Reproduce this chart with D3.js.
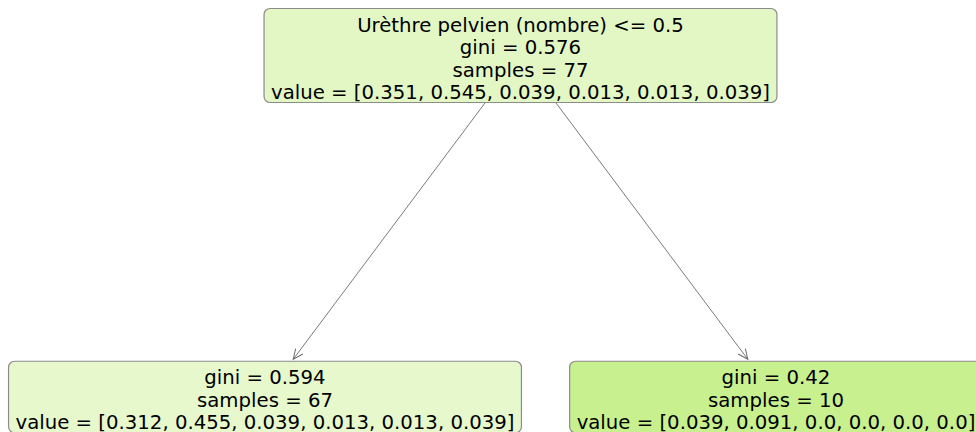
<!DOCTYPE html>
<html>
<head>
<meta charset="utf-8">
<script src="https://cdn.jsdelivr.net/npm/d3@7"></script>
<style>
  html, body { margin: 0; padding: 0; background: #fff; }
  svg { display: block; }
</style>
</head>
<body>
<div id="chart"></div>
<script>
// tree data (one entry per node)
const nodeIds = ['root', 'left', 'right'];
const nodeParents = [null, 'root', 'root'];
const splitFeatures = ['Urèthre pelvien (nombre)', null, null];
const splitThresholds = [0.5, null, null];
const giniValues = [0.576, 0.594, 0.42];
const sampleCounts = [77, 67, 10];
const classValues = [
  [0.351, 0.545, 0.039, 0.013, 0.013, 0.039],
  [0.312, 0.455, 0.039, 0.013, 0.013, 0.039],
  [0.039, 0.091, 0.0, 0.0, 0.0, 0.0]
];

const width = 976;
const height = 432;
const fontSize = 19.7;
const lineH = 22.5;
const padX = 7;

// number format like python repr (0.0 stays 0.0)
const fmt = v => Number.isInteger(v) ? v.toFixed(1) : String(v);

function nodeLines(i) {
  const lines = [];
  if (splitFeatures[i] !== null) {
    lines.push(`${splitFeatures[i]} <= ${splitThresholds[i]}`);
  }
  lines.push(`gini = ${giniValues[i]}`);
  lines.push(`samples = ${sampleCounts[i]}`);
  lines.push(`value = [${classValues[i].map(fmt).join(', ')}]`);
  return lines;
}

// colour like sklearn: class hue with alpha from the two biggest shares
const classColors = [
  [229, 129, 57], [158, 229, 57], [57, 229, 100],
  [57, 186, 229], [100, 57, 229], [229, 57, 186]
];
function nodeFill(vals) {
  const total = d3.sum(vals);
  const p = vals.map(v => v / total);
  const order = d3.range(p.length).sort((a, b) => p[b] - p[a]);
  const p1 = p[order[0]], p2 = p[order[1]];
  const alpha = p2 === 1 ? 0 : (p1 - p2) / (1 - p2);
  const c = classColors[order[0]];
  return d3.rgb(...c.map(ch => Math.round(alpha * ch + (1 - alpha) * 255)));
}

const table = nodeIds.map((id, i) => ({ id, parent: nodeParents[i], index: i }));
const root = d3.stratify().id(d => d.id).parentId(d => d.parent)(table);
d3.tree().size([1, 1])(root);

// scales: tree coordinates -> pixels (leaves at 0.25 / 0.75)
const xScale = d3.scaleLinear().domain([0.25, 0.75]).range([265, 776]);
const yScale = d3.scaleLinear().domain([0, 1]).range([55.5, 397]);

const svg = d3.select('#chart').append('svg')
  .attr('width', width)
  .attr('height', height)
  .style('background', '#fff');

svg.append('defs').append('marker')
  .attr('id', 'head')
  .attr('viewBox', '-12 -6 14 12')
  .attr('refX', 0).attr('refY', 0)
  .attr('markerWidth', 14).attr('markerHeight', 12)
  .attr('markerUnits', 'userSpaceOnUse')
  .attr('orient', 'auto')
  .append('path')
  .attr('d', 'M-10,-4.5L0,0L-10,4.5')
  .attr('fill', 'none')
  .attr('stroke', '#6b6b6b')
  .attr('stroke-width', 1);

const edgeLayer = svg.append('g');
const nodeLayer = svg.append('g');

// draw boxes and text first, keep box sizes for edge clipping
const boxes = {};
root.descendants().forEach(n => {
  const i = n.data.index;
  const lines = nodeLines(i);
  const cx = xScale(n.x);
  const cy = yScale(n.depth);
  const h = lines.length * lineH + 4;
  const top = cy - h / 2;

  const g = nodeLayer.append('g');
  const rect = g.append('rect');
  const text = g.append('text')
    .attr('text-anchor', 'middle')
    .attr('font-family', '"DejaVu Sans", sans-serif')
    .attr('font-size', fontSize)
    .attr('fill', '#000');
  lines.forEach((t, k) => {
    text.append('tspan')
      .attr('x', cx)
      .attr('y', top + 23 + k * lineH)
      .text(t);
  });
  const w = text.node().getBBox().width + padX * 2;
  rect.attr('x', cx - w / 2)
    .attr('y', top)
    .attr('width', w)
    .attr('height', h)
    .attr('rx', 6).attr('ry', 6)
    .attr('fill', nodeFill(classValues[i]))
    .attr('stroke', '#8c8c8c')
    .attr('stroke-width', 1.2);
  boxes[n.id] = { cx, cy, top, bottom: top + h };
});

// edges: line between centres, clipped to box edges
root.links().forEach(l => {
  const a = boxes[l.source.id];
  const b = boxes[l.target.id];
  const y0 = a.bottom;
  const y1 = b.top - 2;
  const t0 = (y0 - a.cy) / (b.cy - a.cy);
  const t1 = (y1 - a.cy) / (b.cy - a.cy);
  edgeLayer.append('line')
    .attr('x1', a.cx + (b.cx - a.cx) * t0)
    .attr('y1', y0)
    .attr('x2', a.cx + (b.cx - a.cx) * t1)
    .attr('y2', y1)
    .attr('stroke', '#6b6b6b')
    .attr('stroke-width', 0.9)
    .attr('marker-end', 'url(#head)');
});
</script>
</body>
</html>
